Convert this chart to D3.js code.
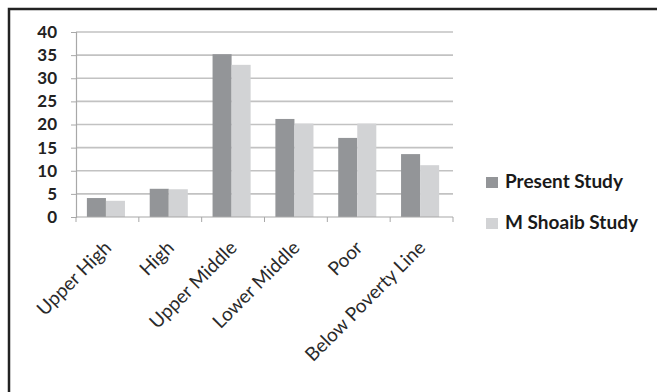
<!DOCTYPE html>
<html><head><meta charset="utf-8">
<script src="https://cdn.jsdelivr.net/npm/d3@7"></script>
<style>body{margin:0;background:#fff}svg{display:block}</style>
</head><body>
<script>
const categories = ["Upper High","High","Upper Middle","Lower Middle","Poor","Below Poverty Line"];
const seriesNames = ["Present Study","M Shoaib Study"];
const presentStudy = [4.1, 6.1, 35.2, 21.2, 17.1, 13.6];
const shoaibStudy  = [3.5, 6.0, 32.9, 20.2, 20.2, 11.2];
const yTicks = [0,5,10,15,20,25,30,35,40];
const colors = ["#939598", "#d2d3d5"];

(function(){
const W = 657, H = 392;
const svg = d3.select("body").append("svg").attr("width", W).attr("height", H);
svg.append("rect").attr("width", W).attr("height", H).attr("fill", "#fff");
// outer frame
svg.append("rect").attr("x", 9).attr("y", 9).attr("width", W + 20).attr("height", H + 20)
  .attr("fill", "none").attr("stroke", "#222").attr("stroke-width", 2.5);

const pl = 76, pr = 453, pt = 32, pb = 217;
const x = d3.scaleBand().domain(categories).range([pl, pr]).padding(0);
const xs = d3.scaleBand().domain(seriesNames).range([0, x.bandwidth()]).paddingInner(0).paddingOuter(0.65).align(0.44);
const y = d3.scaleLinear().domain([0, 40]).range([pb, pt]);

// gridlines
svg.append("g").selectAll("line").data(yTicks.filter(t => t > 0)).join("line")
  .attr("x1", pl).attr("x2", pr).attr("y1", d => y(d)).attr("y2", d => y(d))
  .attr("stroke", "#c2c2c2").attr("stroke-width", 1.6);

// bars
const data = [presentStudy, shoaibStudy];
seriesNames.forEach((s, si) => {
  svg.append("g").selectAll("rect").data(categories).join("rect")
    .attr("x", c => x(c) + xs(s)).attr("width", xs.bandwidth())
    .attr("y", (c, i) => y(data[si][i])).attr("height", (c, i) => pb - y(data[si][i]))
    .attr("fill", colors[si]);
});

// y axis
const yAxis = svg.append("g").attr("transform", `translate(${pl},0)`)
  .call(d3.axisLeft(y).tickValues(yTicks).tickSize(5).tickPadding(14).tickFormat(d3.format("d")));
yAxis.select(".domain").attr("stroke", "#a8a8a8").attr("stroke-width", 1.2);
yAxis.selectAll(".tick line").attr("stroke", "#a8a8a8");
yAxis.selectAll("text").attr("font-family", "Lato, 'Open Sans', sans-serif").attr("font-size", 17)
  .attr("font-weight", "bold").attr("fill", "#222");

// x axis
const xAxis = svg.append("g").attr("transform", `translate(0,${pb})`);
xAxis.append("line").attr("x1", pl).attr("x2", pr).attr("stroke", "#a8a8a8").attr("stroke-width", 1.2);
const tickPos = categories.map(c => x(c)).concat([pr]);
xAxis.selectAll(".tk").data(tickPos).join("line").attr("class", "tk")
  .attr("x1", d => d).attr("x2", d => d).attr("y1", 0).attr("y2", 5).attr("stroke", "#a8a8a8");
xAxis.selectAll("text").data(categories).join("text")
  .attr("transform", c => `translate(${x(c) + x.bandwidth()/2 + 5},${32}) rotate(-45)`)
  .attr("text-anchor", "end")
  .attr("font-family", "Lato, 'Open Sans', sans-serif").attr("font-size", 19)
  .attr("fill", "#2a2a2a").text(c => c);

// legend
const lg = svg.append("g");
seriesNames.forEach((s, i) => {
  const yy = 177 + i * 41;
  lg.append("rect").attr("x", 486).attr("y", yy).attr("width", 12).attr("height", 11).attr("fill", colors[i]);
  lg.append("text").attr("x", 505).attr("y", yy + 11).attr("font-family", "Lato, 'Open Sans', sans-serif")
    .attr("font-size", 19).attr("font-weight", "bold").attr("fill", "#1a1a1a").text(s);
});
})();
</script>
</body></html>
